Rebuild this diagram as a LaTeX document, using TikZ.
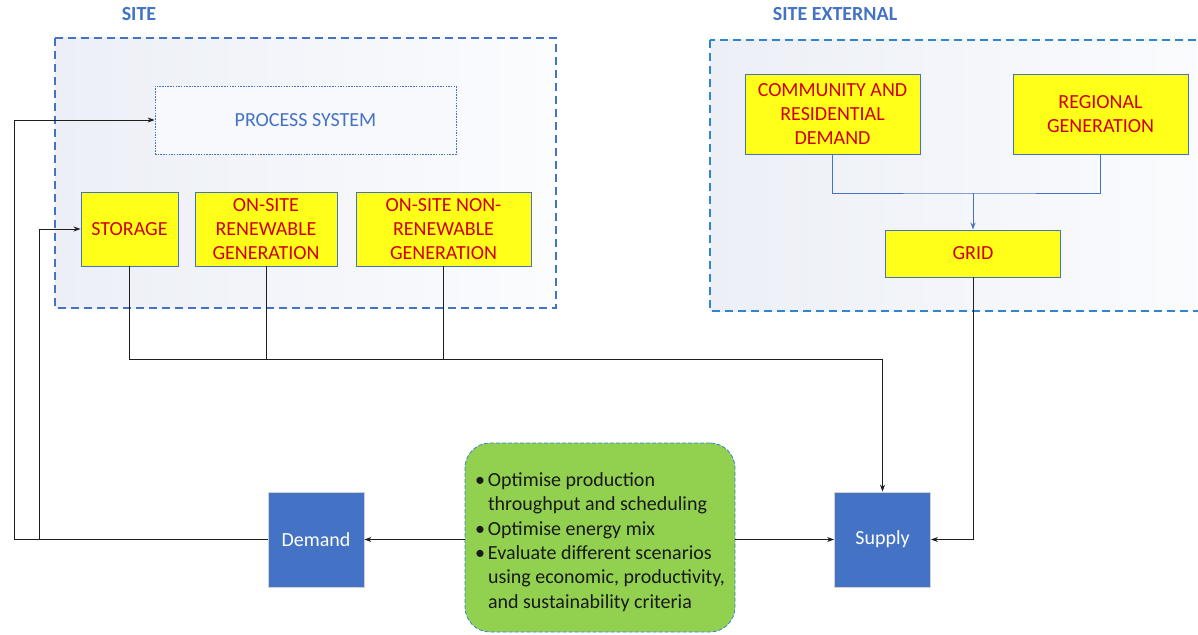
\documentclass[tikz,border=0pt]{standalone}
\usepackage{fontspec}
\setmainfont{Carlito}
\usetikzlibrary{arrows.meta}
\definecolor{siteblue}{HTML}{4472C4}
\definecolor{extblue}{HTML}{2E86D0}
\definecolor{boxyellow}{HTML}{FFFF1A}
\definecolor{boxred}{HTML}{D00000}
\definecolor{optgreen}{HTML}{92D050}
\definecolor{zoneL}{HTML}{ECEFF6}
\definecolor{zoneR}{HTML}{FBFCFE}
\definecolor{procfill}{HTML}{F8F9FC}
\definecolor{blkfill}{HTML}{4472C4}
\definecolor{linegray}{HTML}{1E1E1E}

\begin{document}
\begin{tikzpicture}[x=1pt,y=-1pt,
  font=\fontsize{20}{24.4}\selectfont,
  zone/.style={line width=1.2pt, dash pattern=on 8pt off 5pt, left color=zoneL, right color=zoneR},
  src/.style={draw=siteblue, line width=0.9pt, fill=boxyellow, text=boxred,
    align=center, inner sep=0pt},
  blk/.style={draw=gray!35, line width=0.8pt, fill=blkfill, text=white,
    inner sep=0pt, minimum width=96pt, minimum height=95pt},
  title/.style={font=\fontsize{20}{24}\selectfont\bfseries, text=siteblue},
  conn/.style={draw=linegray, line width=1pt},
  arr/.style={conn, -{Stealth[length=7pt,width=5pt]}},
  bconn/.style={draw=siteblue, line width=1pt},
]
\useasboundingbox (0,0) rectangle (1198,634);

% site and external zones
\draw[zone, draw=siteblue] (55,38) rectangle (556,308);
\begin{scope}
  \clip (0,0) rectangle (1198,634);
  \draw[zone, draw=extblue] (710,40) rectangle (1215,311);
\end{scope}
\node[title] (sitelbl) at (139,14) {SITE};
\node[title] (extlbl) at (835,14) {SITE EXTERNAL};

% site contents
\node[draw=siteblue, line width=0.8pt, dash pattern=on 1.5pt off 1.2pt, fill=procfill,
  text=siteblue, minimum width=301pt, minimum height=68pt, inner sep=0pt]
  (proc) at (305.5,120) {PROCESS SYSTEM};
\node[src, minimum width=97pt, minimum height=74pt] (storage) at (129.5,229) {STORAGE};
\node[src, minimum width=142pt, minimum height=74pt] (renew) at (266,229)
  {ON-SITE\\RENEWABLE\\GENERATION};
\node[src, minimum width=175pt, minimum height=74pt] (nonrenew) at (443.5,229)
  {ON-SITE NON-\\RENEWABLE\\GENERATION};

% external contents
\node[src, minimum width=175pt, minimum height=80pt] (comm) at (832.5,114)
  {COMMUNITY AND\\RESIDENTIAL\\DEMAND};
\node[src, minimum width=175pt, minimum height=80pt] (reg) at (1100.5,114)
  {REGIONAL\\GENERATION};
\node[src, minimum width=175pt, minimum height=47pt] (grid) at (973,253.5) {GRID};

% demand, supply and optimisation
\node[blk] (demand) at (316,539.5) {Demand};
\node[blk] (supply) at (882.5,539.5) {Supply};
\node[draw=extblue, line width=0.8pt, dash pattern=on 4pt off 2pt, fill=optgreen,
  rounded corners=25pt, minimum width=270pt, minimum height=189pt,
  inner sep=0pt, align=left, text=black!90] (opt) at (600,537.5)
  {\rule{0pt}{23pt}\makebox[13pt][l]{\textbullet}Optimise production\\
   \hspace*{13pt}throughput and scheduling\\
   \makebox[13pt][l]{\textbullet}Optimise energy mix\\
   \makebox[13pt][l]{\textbullet}Evaluate different scenarios\\
   \hspace*{13pt}using economic, productivity,\\
   \hspace*{13pt}and sustainability criteria};

% connectors
\coordinate (bus) at (129,359);
\coordinate (join) at (973,193);
\coordinate (outer) at (14,539.5);
\coordinate (inner) at (39,539.5);

\draw[arr] (storage.south) -- (storage.south |- bus) -| (supply.north);
\draw[conn] (renew.south) -- (renew.south |- bus);
\draw[conn] (nonrenew.south) -- (nonrenew.south |- bus);

\draw[bconn] (comm.south) |- (join) -| (reg.south);
\draw[bconn, -{Stealth[length=7pt,width=5pt]}] (join) -- (grid.north);
\draw[arr] (grid.south) |- (supply.east);

\draw[arr] (opt.east |- supply.west) -- (supply.west);
\draw[arr] (opt.west |- demand.east) -- (demand.east);

\draw[arr] (demand.west) -- (outer) |- (proc.west);
\draw[arr] (inner) |- (storage.west);
\end{tikzpicture}
\end{document}
